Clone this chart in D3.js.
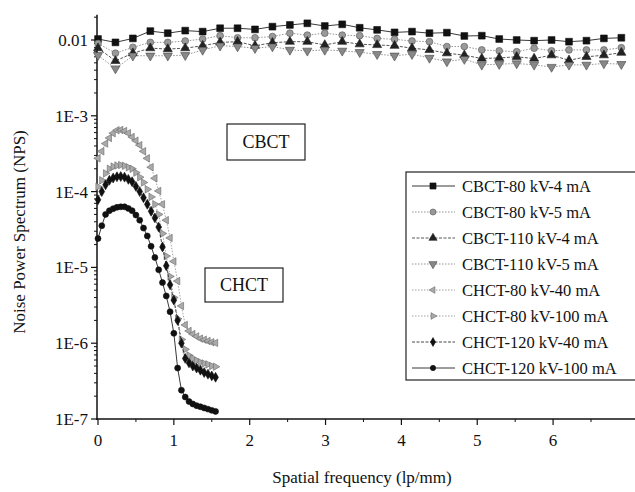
<!DOCTYPE html>
<head>
  <meta charset="utf-8">
  <script src="https://d3js.org/d3.v7.min.js"></script>
  <style>
    body { margin:0; background:#fff; }
  </style>
</head>
<body>
<script>
  var width = 635;
  var height = 492;

  // spatial frequency (lp/mm)
  var cbctFreq = [0, 0.23, 0.46, 0.69, 0.92, 1.15, 1.38, 1.61, 1.84, 2.07, 2.3, 2.53, 2.76, 2.99, 3.22, 3.45,
                  3.68, 3.91, 4.14, 4.37, 4.6, 4.83, 5.06, 5.29, 5.52, 5.75, 5.98, 6.21, 6.44, 6.67, 6.9];
  var chctFreq = [0, 0.05, 0.1, 0.15, 0.2, 0.25, 0.3, 0.35, 0.4, 0.45, 0.5, 0.55, 0.6, 0.65, 0.7, 0.75,
                  0.8, 0.85, 0.9, 0.95, 1.0, 1.05, 1.1, 1.15, 1.2, 1.25, 1.3, 1.35, 1.4, 1.45, 1.5, 1.55];

  var cbct80_4 = [0.0103, 0.0093, 0.0105, 0.0131, 0.0123, 0.0133, 0.0129, 0.0143, 0.0143, 0.0138, 0.0150, 0.0158, 0.0166, 0.0153, 0.0161, 0.0145,
                  0.0136, 0.0126, 0.0129, 0.0123, 0.0125, 0.0113, 0.0114, 0.0103, 0.0100, 0.0098, 0.0100, 0.0095, 0.0098, 0.0105, 0.0107];
  var cbct80_5 = [0.0090, 0.0067, 0.0080, 0.0093, 0.0093, 0.0097, 0.0103, 0.0114, 0.0107, 0.0107, 0.0111, 0.0123, 0.0116, 0.0123, 0.0116, 0.0114,
                  0.0105, 0.0102, 0.0097, 0.0095, 0.0082, 0.0082, 0.0074, 0.0072, 0.0070, 0.0078, 0.0072, 0.0074, 0.0074, 0.0074, 0.0079];
  var cbct110_4 = [0.0078, 0.0053, 0.0067, 0.0078, 0.0076, 0.0078, 0.0084, 0.0093, 0.0095, 0.0084, 0.0092, 0.0095, 0.0095, 0.0086, 0.0095, 0.0088,
                   0.0086, 0.0084, 0.0078, 0.0074, 0.0067, 0.0063, 0.0057, 0.0058, 0.0060, 0.0057, 0.0063, 0.0054, 0.0060, 0.0063, 0.0068];
  var cbct110_5 = [0.0063, 0.0042, 0.0062, 0.0062, 0.0062, 0.0063, 0.0074, 0.0084, 0.0082, 0.0078, 0.0082, 0.0074, 0.0072, 0.0074, 0.0072, 0.0069,
                   0.0065, 0.0062, 0.0065, 0.0058, 0.0052, 0.0056, 0.0047, 0.0048, 0.0049, 0.0047, 0.0044, 0.0047, 0.0047, 0.0049, 0.0048];

  var chct80_40 = [2.75e-4, 3.4e-4, 4.3e-4, 5.1e-4, 5.9e-4, 6.45e-4, 6.5e-4, 6.3e-4, 5.9e-4, 5.25e-4, 4.7e-4, 4.1e-4, 3.4e-4, 2.75e-4, 2.1e-4, 1.5e-4,
                   1.02e-4, 6.8e-5, 4.2e-5, 2.45e-5, 1.2e-5, 6.6e-6, 3.1e-6, 1.74e-6, 1.45e-6, 1.32e-6, 1.23e-6, 1.15e-6, 1.11e-6, 1.07e-6, 1.03e-6, 1.01e-6];
  var chct80_100 = [1.16e-4, 1.41e-4, 1.74e-4, 2.0e-4, 2.14e-4, 2.21e-4, 2.24e-4, 2.19e-4, 2.09e-4, 2.0e-4, 1.78e-4, 1.55e-4, 1.32e-4, 1.07e-4, 8.5e-5, 6.8e-5,
                    5.0e-5, 2.8e-5, 1.41e-5, 7.6e-6, 4.0e-6, 2.1e-6, 1.12e-6, 8.3e-7, 6.9e-7, 6.3e-7, 5.9e-7, 5.6e-7, 5.4e-7, 5.25e-7, 5.0e-7, 4.9e-7];
  var chct120_40 = [7.8e-5, 1.0e-4, 1.23e-4, 1.41e-4, 1.51e-4, 1.57e-4, 1.58e-4, 1.55e-4, 1.45e-4, 1.35e-4, 1.17e-4, 1.0e-4, 8.3e-5, 6.8e-5, 5.5e-5, 4.5e-5,
                    3.4e-5, 1.86e-5, 1.05e-5, 5.9e-6, 3.7e-6, 2.0e-6, 1.0e-6, 6.3e-7, 5.5e-7, 5.0e-7, 4.7e-7, 4.4e-7, 4.1e-7, 3.9e-7, 3.7e-7, 3.55e-7];
  var chct120_100 = [2.4e-5, 3.55e-5, 5.0e-5, 5.6e-5, 5.95e-5, 6.2e-5, 6.3e-5, 6.3e-5, 6.0e-5, 5.6e-5, 4.9e-5, 4.2e-5, 3.3e-5, 2.6e-5, 1.9e-5, 1.35e-5,
                     9.3e-6, 6.3e-6, 4.2e-6, 2.6e-6, 1.35e-6, 4.7e-7, 2.4e-7, 1.95e-7, 1.7e-7, 1.58e-7, 1.5e-7, 1.45e-7, 1.4e-7, 1.35e-7, 1.3e-7, 1.26e-7];

  var seriesNames = ["CBCT-80 kV-4 mA", "CBCT-80 kV-5 mA", "CBCT-110 kV-4 mA", "CBCT-110 kV-5 mA",
                     "CHCT-80 kV-40 mA", "CHCT-80 kV-100 mA", "CHCT-120 kV-40 mA", "CHCT-120 kV-100 mA"];
  var yTickValues = [1e-7, 1e-6, 1e-5, 1e-4, 1e-3, 1e-2];
  var yTickLabels = ["1E-7", "1E-6", "1E-5", "1E-4", "1E-3", "0.01"];
  var xTickValues = [0, 1, 2, 3, 4, 5, 6];

  // styles per series
  var styles = [
    { sym: d3.symbolSquare,   rot: 0,   size: 46, fill: "#111", stroke: "#111", line: "#222", dash: null },
    { sym: d3.symbolCircle,   rot: 0,   size: 36, fill: "#999", stroke: "#555", line: "#888", dash: "1.5,1.5" },
    { sym: d3.symbolTriangle, rot: 0,   size: 36, fill: "#222", stroke: "#222", line: "#444", dash: "3,1.5" },
    { sym: d3.symbolTriangle, rot: 180, size: 36, fill: "#888", stroke: "#444", line: "#888", dash: "1.5,1.5" },
    { sym: d3.symbolTriangle, rot: -90, size: 24, fill: "#aaa", stroke: "#666", line: "#999", dash: "1.5,1.5" },
    { sym: d3.symbolTriangle, rot: 90,  size: 24, fill: "#aaa", stroke: "#666", line: "#999", dash: "1.5,1.5" },
    { sym: d3.symbolDiamond,  rot: 0,   size: 28, fill: "#111", stroke: "#111", line: "#333", dash: "3,1.5" },
    { sym: d3.symbolCircle,   rot: 0,   size: 28, fill: "#111", stroke: "#111", line: "#222", dash: null }
  ];

  var series = [
    { x: cbctFreq, y: cbct80_4 }, { x: cbctFreq, y: cbct80_5 },
    { x: cbctFreq, y: cbct110_4 }, { x: cbctFreq, y: cbct110_5 },
    { x: chctFreq, y: chct80_40 }, { x: chctFreq, y: chct80_100 },
    { x: chctFreq, y: chct120_40 }, { x: chctFreq, y: chct120_100 }
  ];

  var svg = d3.select("body").append("svg")
    .attr("width", width)
    .attr("height", height)
    .attr("font-family", "'Liberation Serif', 'Times New Roman', Times, serif")
    .style("font-family", "'Liberation Serif', 'Times New Roman', Times, serif");

  var x = d3.scaleLinear().domain([0, 7.08]).range([98, 635]);
  var y = d3.scaleLog().domain([1e-7, 0.0215]).range([419, 14.8]);

  // y axis
  var yMinor = [];
  for (var e = -7; e <= -2; e++) {
    for (var k = 2; k <= 9; k++) {
      var v = k * Math.pow(10, e);
      if (v <= 0.0215) yMinor.push(v);
    }
  }
  var yAxis = svg.append("g").attr("transform", "translate(97,0)");
  yAxis.append("line").attr("x1", 0).attr("x2", 0).attr("y1", y(0.0215)).attr("y2", 420)
    .attr("stroke", "#111").attr("stroke-width", 1.5);
  yAxis.selectAll(".ymin").data(yMinor).enter().append("line")
    .attr("x1", -3).attr("x2", 0).attr("y1", function(d){ return y(d); }).attr("y2", function(d){ return y(d); })
    .attr("stroke", "#111").attr("stroke-width", 1);
  yAxis.selectAll(".ymaj").data(yTickValues).enter().append("line")
    .attr("x1", -6).attr("x2", 0).attr("y1", function(d){ return y(d); }).attr("y2", function(d){ return y(d); })
    .attr("stroke", "#111").attr("stroke-width", 1.2);
  yAxis.selectAll(".ylab").data(yTickValues).enter().append("text")
    .attr("x", -9).attr("y", function(d){ return y(d); }).attr("dy", "0.35em")
    .attr("text-anchor", "end").attr("font-size", 17).attr("fill", "#111")
    .text(function(d, i){ return yTickLabels[i]; });

  // x axis
  var xMinor = [0.5, 1.5, 2.5, 3.5, 4.5, 5.5, 6.5];
  var xAxis = svg.append("g").attr("transform", "translate(0,419)");
  xAxis.append("line").attr("x1", 96).attr("x2", 635).attr("y1", 0).attr("y2", 0)
    .attr("stroke", "#111").attr("stroke-width", 1.5);
  xAxis.selectAll(".xmaj").data(xTickValues).enter().append("line")
    .attr("x1", function(d){ return x(d); }).attr("x2", function(d){ return x(d); })
    .attr("y1", 0).attr("y2", 6).attr("stroke", "#111").attr("stroke-width", 1.2);
  xAxis.selectAll(".xmin").data(xMinor).enter().append("line")
    .attr("x1", function(d){ return x(d); }).attr("x2", function(d){ return x(d); })
    .attr("y1", 0).attr("y2", 3).attr("stroke", "#111").attr("stroke-width", 1);
  xAxis.selectAll(".xlab").data(xTickValues).enter().append("text")
    .attr("x", function(d){ return x(d); }).attr("y", 27)
    .attr("text-anchor", "middle").attr("font-size", 17).attr("fill", "#111")
    .text(function(d){ return d; });

  // axis titles
  svg.append("text").attr("x", 362).attr("y", 483).attr("text-anchor", "middle")
    .attr("font-size", 17).attr("fill", "#111").text("Spatial frequency (lp/mm)");
  svg.append("text").attr("transform", "translate(25,232) rotate(-90)").attr("text-anchor", "middle")
    .attr("font-size", 17).attr("fill", "#111").text("Noise Power Spectrum (NPS)");

  // lines and markers
  var line = d3.line()
    .x(function(d){ return x(d[0]); })
    .y(function(d){ return y(d[1]); });

  var plot = svg.append("g");
  series.forEach(function(s, i){
    var pts = s.x.map(function(f, j){ return [f, s.y[j]]; });
    var st = styles[i];
    plot.append("path").datum(pts).attr("d", line)
      .attr("fill", "none").attr("stroke", st.line).attr("stroke-width", 0.9)
      .attr("stroke-dasharray", st.dash);
    plot.selectAll(".m" + i).data(pts).enter().append("path")
      .attr("d", d3.symbol().type(st.sym).size(st.size))
      .attr("transform", function(d){ return "translate(" + x(d[0]) + "," + y(d[1]) + ") rotate(" + st.rot + ")"; })
      .attr("fill", st.fill).attr("stroke", st.stroke).attr("stroke-width", 0.6);
  });

  // label boxes
  function labelBox(cx, cy, w, h, txt) {
    svg.append("rect").attr("x", cx - w/2).attr("y", cy - h/2).attr("width", w).attr("height", h)
      .attr("fill", "#fff").attr("stroke", "#222").attr("stroke-width", 1.2);
    svg.append("text").attr("x", cx).attr("y", cy).attr("dy", "0.35em").attr("text-anchor", "middle")
      .attr("font-size", 18).attr("fill", "#111").text(txt);
  }
  labelBox(266, 142, 78, 36, "CBCT");
  labelBox(244, 285, 78, 34, "CHCT");

  // legend
  var lg = svg.append("g");
  lg.append("rect").attr("x", 406).attr("y", 172).attr("width", 240).attr("height", 208)
    .attr("fill", "#fff").attr("stroke", "#222").attr("stroke-width", 1.2);
  seriesNames.forEach(function(name, i){
    var st = styles[i];
    var ly = 186 + i * 26;
    lg.append("line").attr("x1", 412).attr("x2", 455).attr("y1", ly).attr("y2", ly)
      .attr("stroke", st.line).attr("stroke-width", 0.9).attr("stroke-dasharray", st.dash);
    lg.append("path").attr("d", d3.symbol().type(st.sym).size(st.size * 0.8))
      .attr("transform", "translate(433," + ly + ") rotate(" + st.rot + ")")
      .attr("fill", st.fill).attr("stroke", st.stroke).attr("stroke-width", 0.6);
    lg.append("text").attr("x", 462).attr("y", ly).attr("dy", "0.35em")
      .attr("font-size", 16.5).attr("fill", "#111").text(name);
  });
</script>
</body>
